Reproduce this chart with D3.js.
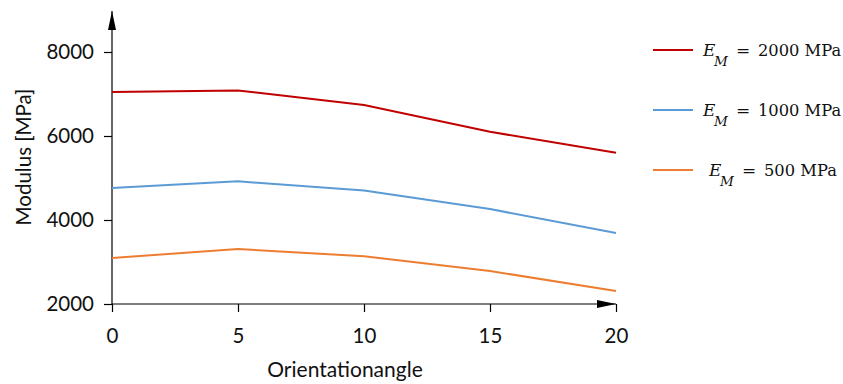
<!DOCTYPE html>
<html>
<head>
<meta charset="utf-8">
<script src="https://cdn.jsdelivr.net/npm/d3@7"></script>
<style>
  html, body { margin: 0; padding: 0; background: #fff; }
  svg { display: block; }
</style>
</head>
<body>
<svg id="chart" width="843" height="384"></svg>
<script>
// Orientation angles (x) and modulus values (MPa) for each matrix stiffness
const angles = [0, 5, 10, 15, 20];
const modulus2000 = [7050, 7085, 6740, 6100, 5600];
const modulus1000 = [4760, 4920, 4700, 4260, 3690];
const modulus500 = [3095, 3310, 3135, 2785, 2310];
const seriesNames = ["2000", "1000", "500"];
const seriesColors = ["#c00000", "#5b9bd5", "#ed7d31"];
const xTicks = [0, 5, 10, 15, 20];
const yTicks = [2000, 4000, 6000, 8000];

const svg = d3.select("#chart");
const uiFont = "Lato, 'Open Sans', sans-serif";
const mathFont = "'DejaVu Serif', 'Liberation Serif', serif";

const x = d3.scaleLinear().domain([0, 20]).range([112, 616]);
const y = d3.scaleLinear().domain([2000, 8000]).range([304, 52]);

// Long, narrow arrowhead for the axis ends
svg.append("defs").append("marker")
  .attr("id", "arrow")
  .attr("viewBox", "0 0 19 8")
  .attr("refX", 19).attr("refY", 4)
  .attr("markerWidth", 19).attr("markerHeight", 8)
  .attr("markerUnits", "userSpaceOnUse")
  .attr("orient", "auto")
  .append("path").attr("d", "M0,0 L19,4 L0,8 Z").attr("fill", "#000");

// Axes
const xAxis = svg.append("g")
  .attr("transform", `translate(0,${y(2000)})`)
  .call(d3.axisBottom(x).tickValues(xTicks).tickSize(8).tickPadding(16).tickSizeOuter(0));
xAxis.select(".domain").remove();
xAxis.selectAll("line").attr("stroke", "#000").attr("stroke-width", 1.2);
xAxis.selectAll("text").attr("font-family", uiFont).attr("font-size", 20.5).attr("fill", "#111");

const yAxis = svg.append("g")
  .attr("transform", `translate(${x(0)},0)`)
  .call(d3.axisLeft(y).tickValues(yTicks).tickSize(8).tickPadding(10).tickSizeOuter(0).tickFormat(d3.format("d")));
yAxis.select(".domain").remove();
yAxis.selectAll("line").attr("stroke", "#000").attr("stroke-width", 1.2);
yAxis.selectAll("text").attr("font-family", uiFont).attr("font-size", 20.5).attr("fill", "#111");

// Axis lines with arrowheads
svg.append("line")
  .attr("x1", x(0)).attr("y1", y(2000)).attr("x2", x(20)).attr("y2", y(2000))
  .attr("stroke", "#000").attr("stroke-width", 1.2).attr("marker-end", "url(#arrow)");
svg.append("line")
  .attr("x1", x(0)).attr("y1", y(2000)).attr("x2", x(0)).attr("y2", 11)
  .attr("stroke", "#000").attr("stroke-width", 1.2).attr("marker-end", "url(#arrow)");

// Axis titles
svg.append("text")
  .attr("x", 345).attr("y", 377)
  .attr("text-anchor", "middle")
  .attr("font-family", uiFont).attr("font-size", 21).attr("fill", "#111")
  .text("Orientationangle");
svg.append("text")
  .attr("transform", "translate(31,157) rotate(-90)")
  .attr("text-anchor", "middle")
  .attr("font-family", uiFont).attr("font-size", 20.5).attr("fill", "#111")
  .text("Modulus [MPa]");

// Lines
const series = [modulus2000, modulus1000, modulus500];
const line = d3.line().x((d, i) => x(angles[i])).y(d => y(d));
svg.selectAll(".series")
  .data(series)
  .join("path")
  .attr("class", "series")
  .attr("d", d => line(d))
  .attr("fill", "none")
  .attr("stroke", (d, i) => seriesColors[i])
  .attr("stroke-width", 2);

// Legend: E_M = value MPa, set in a math-style serif
const legend = svg.append("g");
const legendY = [50, 110, 170];
const textX = [703, 703, 709];
seriesNames.forEach((name, i) => {
  legend.append("line")
    .attr("x1", 653).attr("x2", 693)
    .attr("y1", legendY[i]).attr("y2", legendY[i])
    .attr("stroke", seriesColors[i]).attr("stroke-width", 2);
  const g = legend.append("g")
    .attr("transform", `translate(${textX[i]},${legendY[i] + 6})`)
    .attr("font-family", mathFont).attr("fill", "#111");
  g.append("text").attr("x", 0).attr("y", 0)
    .attr("font-size", 17).attr("font-style", "italic").text("E");
  g.append("text").attr("x", 11).attr("y", 10)
    .attr("font-size", 13.5).attr("font-style", "italic").text("M");
  g.append("text").attr("x", 33).attr("y", 0)
    .attr("font-size", 17).text("=");
  g.append("text").attr("x", 55).attr("y", 0)
    .attr("font-size", 16.3).text(name + " MPa");
});
</script>
</body>
</html>
